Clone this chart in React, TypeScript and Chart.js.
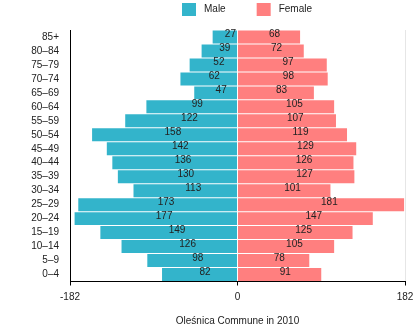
import React, { useEffect, useRef } from "react";
import { Chart, registerables } from "chart.js";

Chart.register(...registerables);

const ageGroups = ["85+", "80–84", "75–79", "70–74", "65–69", "60–64", "55–59", "50–54", "45–49", "40–44", "35–39", "30–34", "25–29", "20–24", "15–19", "10–14", "5–9", "0–4"];
const maleValues = [27, 39, 52, 62, 47, 99, 122, 158, 142, 136, 130, 113, 173, 177, 149, 126, 98, 82];
const femaleValues = [68, 72, 97, 98, 83, 105, 107, 119, 129, 126, 127, 101, 181, 147, 125, 105, 78, 91];
const axisTicks = [-182, 0, 182];
const seriesNames = ["Male", "Female"];
const chartTitle = "Oleśnica Commune in 2010";

const MALE_COLOR = "#33b4cb";
const FEMALE_COLOR = "#ff7f7f";
const FONT = "'Liberation Sans', Arial, sans-serif";

const valueLabels = {
  id: "valueLabels",
  afterDatasetsDraw(chart: any) {
    const ctx = chart.ctx;
    ctx.save();
    ctx.font = `10px ${FONT}`;
    ctx.fillStyle = "#222";
    ctx.textAlign = "left";
    ctx.textBaseline = "alphabetic";
    chart.data.datasets.forEach((ds: any, di: number) => {
      const meta = chart.getDatasetMeta(di);
      meta.data.forEach((el: any, i: number) => {
        const v = Math.abs(ds.data[i]);
        const cx = (el.x + el.base) / 2;
        ctx.fillText(String(v), cx, el.y + 0.5);
      });
    });
    ctx.restore();
  },
};

const customLegend = {
  id: "customLegend",
  afterDraw(chart: any) {
    const ctx = chart.ctx;
    ctx.save();
    ctx.font = `10px ${FONT}`;
    ctx.textBaseline = "middle";
    ctx.textAlign = "left";
    let x = 182;
    const top = 3;
    chart.data.datasets.forEach((ds: any) => {
      ctx.fillStyle = ds.backgroundColor;
      ctx.fillRect(x, top, 14, 13);
      ctx.fillStyle = "#222";
      ctx.fillText(ds.label, x + 22, top + 6.5);
      x += 22 + ctx.measureText(ds.label).width + 31;
    });
    ctx.restore();
  },
};

export default function App() {
  const ref = useRef<HTMLCanvasElement>(null);
  useEffect(() => {
    if (!ref.current) return;
    const chart = new Chart(ref.current, {
      type: "bar",
      data: {
        labels: ageGroups,
        datasets: [
          { label: seriesNames[0], data: maleValues.map((v) => -v), backgroundColor: MALE_COLOR, borderWidth: 0, categoryPercentage: 1, barPercentage: 0.93 },
          { label: seriesNames[1], data: femaleValues, backgroundColor: FEMALE_COLOR, borderWidth: 0, categoryPercentage: 1, barPercentage: 0.93 },
        ],
      },
      options: {
        indexAxis: "y",
        responsive: false,
        animation: false,
        layout: { padding: { top: 30, right: 15, left: 0, bottom: 0 } },
        plugins: { legend: { display: false }, tooltip: { enabled: false }, title: { display: false } },
        scales: {
          x: {
            stacked: true,
            min: -182,
            max: 182,
            afterBuildTicks: (s: any) => {
              s.ticks = axisTicks.map((v) => ({ value: v }));
            },
            afterFit: (s: any) => {
              s.height = 49.5;
            },
            grid: {
              color: (c: any) => (c.tick && c.tick.value === 182 ? "#e6e6e6" : "rgba(0,0,0,0)"),
              tickColor: "#000",
              tickLength: 4,
            },
            border: { display: true, color: "#000", width: 1 },
            ticks: { font: { size: 10, family: FONT }, color: "#222", padding: 6, maxRotation: 0, autoSkip: false },
            title: { display: true, text: chartTitle, font: { size: 10, family: FONT }, color: "#222", padding: { top: 0, bottom: 4 } },
          },
          y: {
            stacked: true,
            afterFit: (s: any) => {
              s.width = 70;
            },
            grid: { color: "rgba(0,0,0,0)", drawTicks: false },
            border: { display: true, color: "#000", width: 1 },
            ticks: { font: { size: 10, family: FONT }, color: "#222", padding: 11, autoSkip: false },
          },
        },
      },
      plugins: [valueLabels, customLegend],
    });
    return () => chart.destroy();
  }, []);
  return (
    <div style={{ position: "fixed", left: 0, top: 0, width: 420, height: 331, background: "#fff" }}>
      <canvas ref={ref} width={420} height={331} style={{ width: 420, height: 331, display: "block" }} />
    </div>
  );
}
